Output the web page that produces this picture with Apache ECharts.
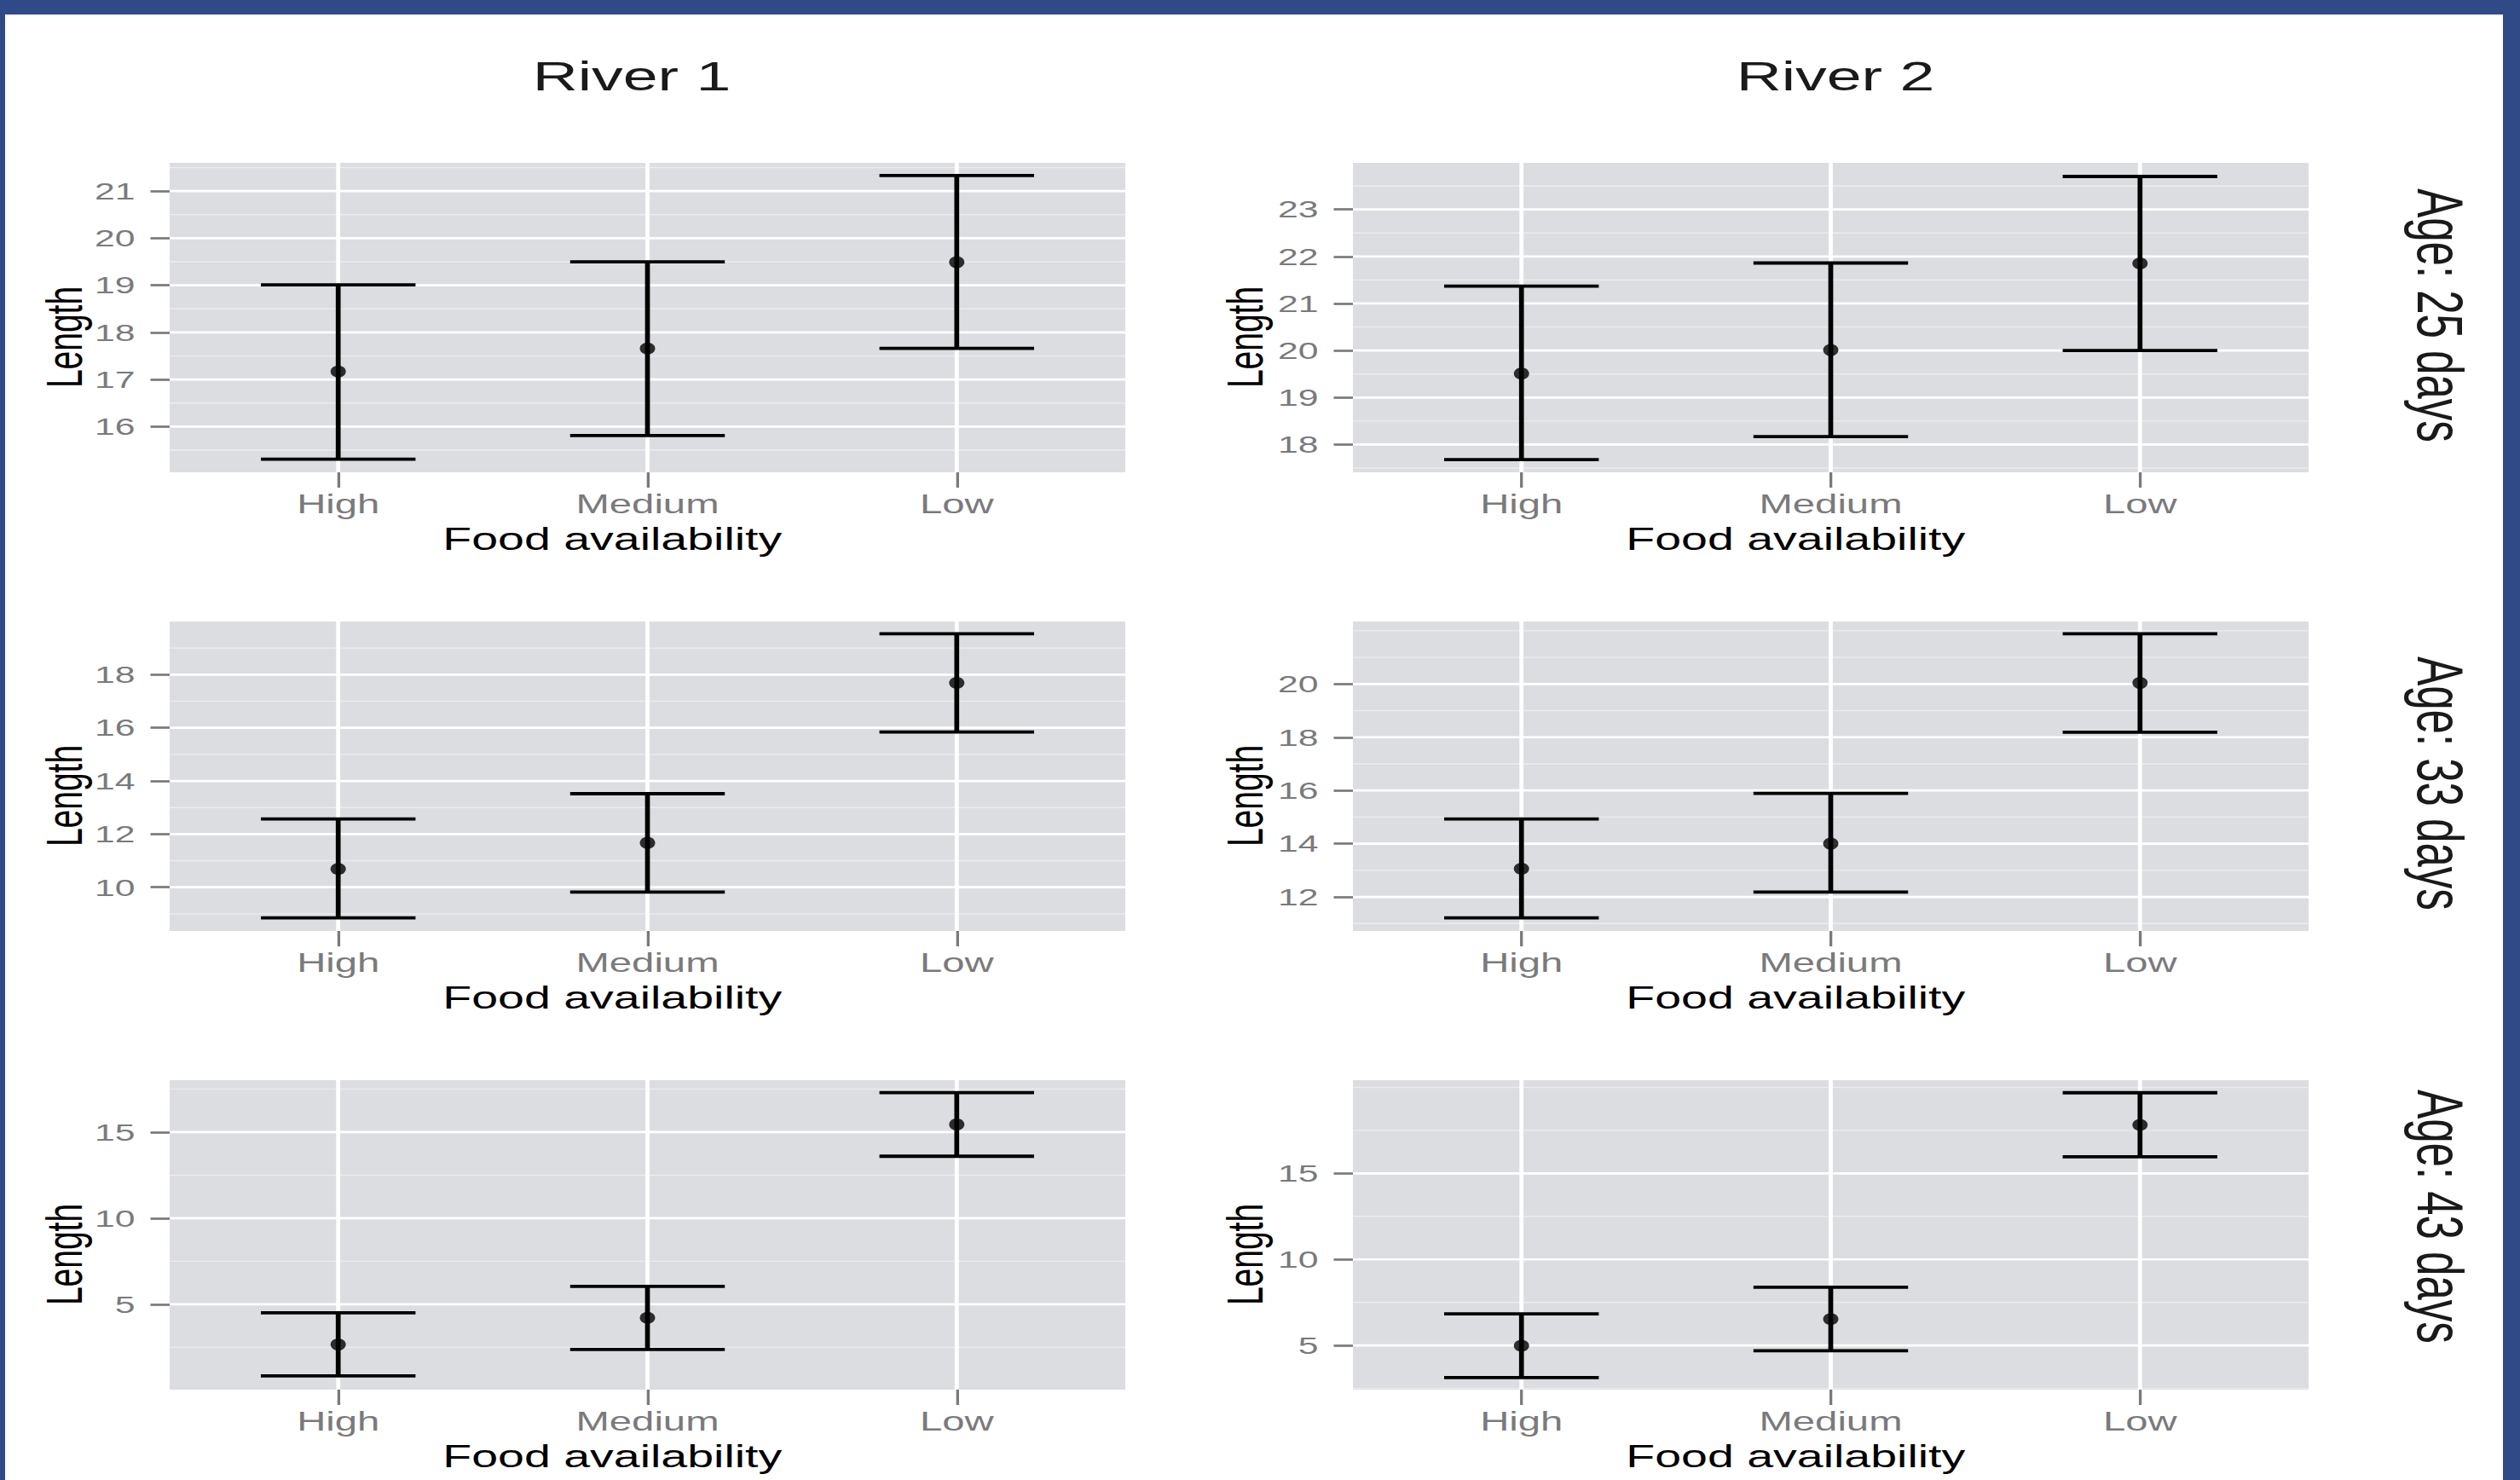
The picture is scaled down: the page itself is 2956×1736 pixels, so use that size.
<!DOCTYPE html>
<html>
<head>
<meta charset="utf-8">
<script src="https://cdn.jsdelivr.net/npm/echarts@6/dist/echarts.min.js"></script>
<style>
html, body { margin: 0; padding: 0; width: 2956px; height: 1736px; overflow: hidden; background: #2f4a86; }
#paper { position: absolute; left: 6px; top: 17px; width: 2930px; height: 1719px; background: #ffffff; }
#chart { position: absolute; left: 0; top: 0; width: 1971px; height: 1736px; transform: scaleX(1.49974632); transform-origin: 0 0; }
</style>
</head>
<body>
<div id="paper"></div>
<div id="chart"></div>
<script>
// ---------- data ----------
const categories = ['High', 'Medium', 'Low'];
const riverTitles = ['River 1', 'River 2'];
const ageLabels = ['Age: 25 days', 'Age: 33 days', 'Age: 43 days'];
const yAxisTitle = 'Length';
const xAxisTitle = 'Food availability';

const river1Age25Mean  = [17.17, 17.66, 19.49];
const river1Age25Lower = [15.31, 15.81, 17.66];
const river1Age25Upper = [19.01, 19.50, 21.33];
const river2Age25Mean  = [19.51, 20.01, 21.85];
const river2Age25Lower = [17.68, 18.17, 20.00];
const river2Age25Upper = [21.37, 21.86, 23.70];

const river1Age33Mean  = [10.69, 11.67, 17.69];
const river1Age33Lower = [8.85, 9.82, 15.84];
const river1Age33Upper = [12.57, 13.52, 19.54];
const river2Age33Mean  = [13.06, 14.00, 20.04];
const river2Age33Lower = [11.21, 12.18, 18.19];
const river2Age33Upper = [14.93, 15.89, 21.89];

const river1Age43Mean  = [2.66, 4.21, 15.45];
const river1Age43Lower = [0.84, 2.37, 13.60];
const river1Age43Upper = [4.50, 6.04, 17.30];
const river2Age43Mean  = [4.98, 6.53, 17.82];
const river2Age43Lower = [3.13, 4.69, 15.97];
const river2Age43Upper = [6.83, 8.38, 19.69];

// tick labels (major breaks) and minor grid breaks
const river1Age25Ticks = [16, 17, 18, 19, 20, 21];
const river2Age25Ticks = [18, 19, 20, 21, 22, 23];
const river1Age33Ticks = [10, 12, 14, 16, 18];
const river2Age33Ticks = [12, 14, 16, 18, 20];
const river1Age43Ticks = [5, 10, 15];
const river2Age43Ticks = [5, 10, 15];

const river1Age25Minor = [15.5, 16.5, 17.5, 18.5, 19.5, 20.5, 21.5];
const river2Age25Minor = [17.5, 18.5, 19.5, 20.5, 21.5, 22.5, 23.5];
const river1Age33Minor = [9, 11, 13, 15, 17, 19];
const river2Age33Minor = [11, 13, 15, 17, 19, 21, 22];
const river1Age43Minor = [2.5, 7.5, 12.5, 17.5];
const river2Age43Minor = [2.5, 7.5, 12.5, 17.5, 20];

// y-axis ranges
const river1Age25Range = [15.03, 21.60];
const river2Age25Range = [17.41, 23.99];
const river1Age33Range = [8.355, 20.00];
const river2Age33Range = [10.72, 22.35];
const river1Age43Range = [0.04, 18.02];
const river2Age43Range = [2.43, 20.42];

// ---------- layout (reference pixels; chart is stretched horizontally by K) ----------
const K = 2956 / 1971;
const px = v => v / K;
const COL_LEFT = [199, 1587];
const PLOT_W = 1121;
const ROW_TOP = [191, 729, 1267];
const PLOT_H = 363;
const X_MIN = 0.455, X_MAX = 3.545, CAP_HALF = 0.25;
const FONT = "'Liberation Sans', Arial, Helvetica, sans-serif";
const GREY = '#7a7a7c';

const panels = [
  { row: 0, col: 0, mean: river1Age25Mean, lower: river1Age25Lower, upper: river1Age25Upper, ticks: river1Age25Ticks, minor: river1Age25Minor, range: river1Age25Range },
  { row: 0, col: 1, mean: river2Age25Mean, lower: river2Age25Lower, upper: river2Age25Upper, ticks: river2Age25Ticks, minor: river2Age25Minor, range: river2Age25Range },
  { row: 1, col: 0, mean: river1Age33Mean, lower: river1Age33Lower, upper: river1Age33Upper, ticks: river1Age33Ticks, minor: river1Age33Minor, range: river1Age33Range },
  { row: 1, col: 1, mean: river2Age33Mean, lower: river2Age33Lower, upper: river2Age33Upper, ticks: river2Age33Ticks, minor: river2Age33Minor, range: river2Age33Range },
  { row: 2, col: 0, mean: river1Age43Mean, lower: river1Age43Lower, upper: river1Age43Upper, ticks: river1Age43Ticks, minor: river1Age43Minor, range: river1Age43Range },
  { row: 2, col: 1, mean: river2Age43Mean, lower: river2Age43Lower, upper: river2Age43Upper, ticks: river2Age43Ticks, minor: river2Age43Minor, range: river2Age43Range }
];

const catPos = categories.map((c, j) => j + 1);

function gridRenderItem(params, api) {
  const v = api.value(0), kind = api.value(1);
  const cs = params.coordSys;
  if (kind === 2) {
    const x = api.coord([v, 0])[0];
    return { type: 'line', silent: true, shape: { x1: x, y1: cs.y, x2: x, y2: cs.y + cs.height },
      style: { stroke: '#ffffff', lineWidth: 3.2 } };
  }
  const y = api.coord([1, v])[1];
  return { type: 'line', silent: true, shape: { x1: cs.x, y1: y, x2: cs.x + cs.width, y2: y },
    style: { stroke: kind === 1 ? '#ffffff' : '#ececee', lineWidth: kind === 1 ? 2.7 : 1.4 } };
}

function errorBarRenderItem(params, api) {
  const x = api.value(0), lo = api.value(1), hi = api.value(2);
  const t = api.coord([x, hi]), b = api.coord([x, lo]);
  const tl = api.coord([x - CAP_HALF, hi]), tr = api.coord([x + CAP_HALF, hi]);
  const bl = api.coord([x - CAP_HALF, lo]), br = api.coord([x + CAP_HALF, lo]);
  const st = () => ({ stroke: '#000000', lineWidth: 3.8 });
  return { type: 'group', children: [
    { type: 'line', shape: { x1: t[0], y1: t[1], x2: b[0], y2: b[1] }, style: st() },
    { type: 'line', shape: { x1: tl[0], y1: tl[1], x2: tr[0], y2: tr[1] }, style: st() },
    { type: 'line', shape: { x1: bl[0], y1: bl[1], x2: br[0], y2: br[1] }, style: st() }
  ] };
}

const grid = [], xAxis = [], yAxis = [], series = [];
panels.forEach((p, i) => {
  grid.push({ left: px(COL_LEFT[p.col]), top: ROW_TOP[p.row], width: px(PLOT_W), height: PLOT_H,
    show: true, backgroundColor: '#dcdde0', borderWidth: 0, containLabel: false, outerBoundsMode: 'none' });
  xAxis.push({ type: 'value', gridIndex: i, min: X_MIN, max: X_MAX,
    axisLine: { show: false, onZero: false }, splitLine: { show: false },
    axisTick: { show: true, customValues: catPos, length: 18, lineStyle: { color: GREY, width: 2.2 } },
    axisLabel: { show: true, customValues: catPos, formatter: v => categories[Math.round(v) - 1],
      margin: 21.5, fontSize: 31.5, color: GREY, fontFamily: FONT },
    name: xAxisTitle, nameLocation: 'middle', nameGap: 59.5, nameMoveOverlap: false,
    nameTextStyle: { fontSize: 37, color: '#000000', fontFamily: FONT, padding: [0, 55, 0, 0] } });
  yAxis.push({ type: 'value', gridIndex: i, min: p.range[0], max: p.range[1],
    axisLine: { show: false, onZero: false }, splitLine: { show: false },
    axisTick: { show: true, customValues: p.ticks, length: 15, lineStyle: { color: GREY, width: 2.7 } },
    axisLabel: { show: true, customValues: p.ticks, margin: 27, fontSize: 28.5, color: GREY, fontFamily: FONT },
    name: yAxisTitle, nameLocation: 'middle', nameGap: p.col === 0 ? 62.5 : 64.8, nameMoveOverlap: false,
    nameTextStyle: { fontSize: 39, color: '#000000', fontFamily: FONT, padding: [0, 46, 0, 0] } });

  const gridData = p.minor.map(v => [v, 0])
    .concat(p.ticks.map(v => [v, 1]))
    .concat(catPos.map(v => [v, 2]));
  series.push({ type: 'custom', xAxisIndex: i, yAxisIndex: i, z: 1, silent: true,
    renderItem: gridRenderItem, data: gridData, encode: { x: 0, y: 1 } });
  series.push({ type: 'custom', xAxisIndex: i, yAxisIndex: i, z: 3, silent: true,
    renderItem: errorBarRenderItem, encode: { x: 0, y: [1, 2] },
    data: catPos.map((x, j) => [x, p.lower[j], p.upper[j]]) });
  series.push({ type: 'scatter', xAxisIndex: i, yAxisIndex: i, z: 4, silent: true,
    symbol: 'circle', symbolSize: [12, 14], itemStyle: { color: '#000000' },
    data: catPos.map((x, j) => [x, p.mean[j]]) });
});

const TITLE_X = [741, 2153];
const STRIP_X = 2862;
const STRIP_Y = [370, 919, 1427];
const graphic = [];
riverTitles.forEach((t, c) => graphic.push({ type: 'text', x: px(TITLE_X[c]), y: 88.5, silent: true,
  style: { text: t, fontSize: 49, fontFamily: FONT, fill: '#1a1a1a', align: 'center', verticalAlign: 'middle' } }));
ageLabels.forEach((t, r) => graphic.push({ type: 'text', x: px(STRIP_X), y: STRIP_Y[r], rotation: -Math.PI / 2, silent: true,
  style: { text: t, fontSize: 51, fontFamily: FONT, fill: '#1a1a1a', align: 'center', verticalAlign: 'middle' } }));

const chart = echarts.init(document.getElementById('chart'), null, { renderer: 'svg' });
chart.setOption({
  animation: false,
  backgroundColor: 'transparent',
  textStyle: { fontFamily: FONT },
  grid, xAxis, yAxis, series, graphic
});
</script>
</body>
</html>
